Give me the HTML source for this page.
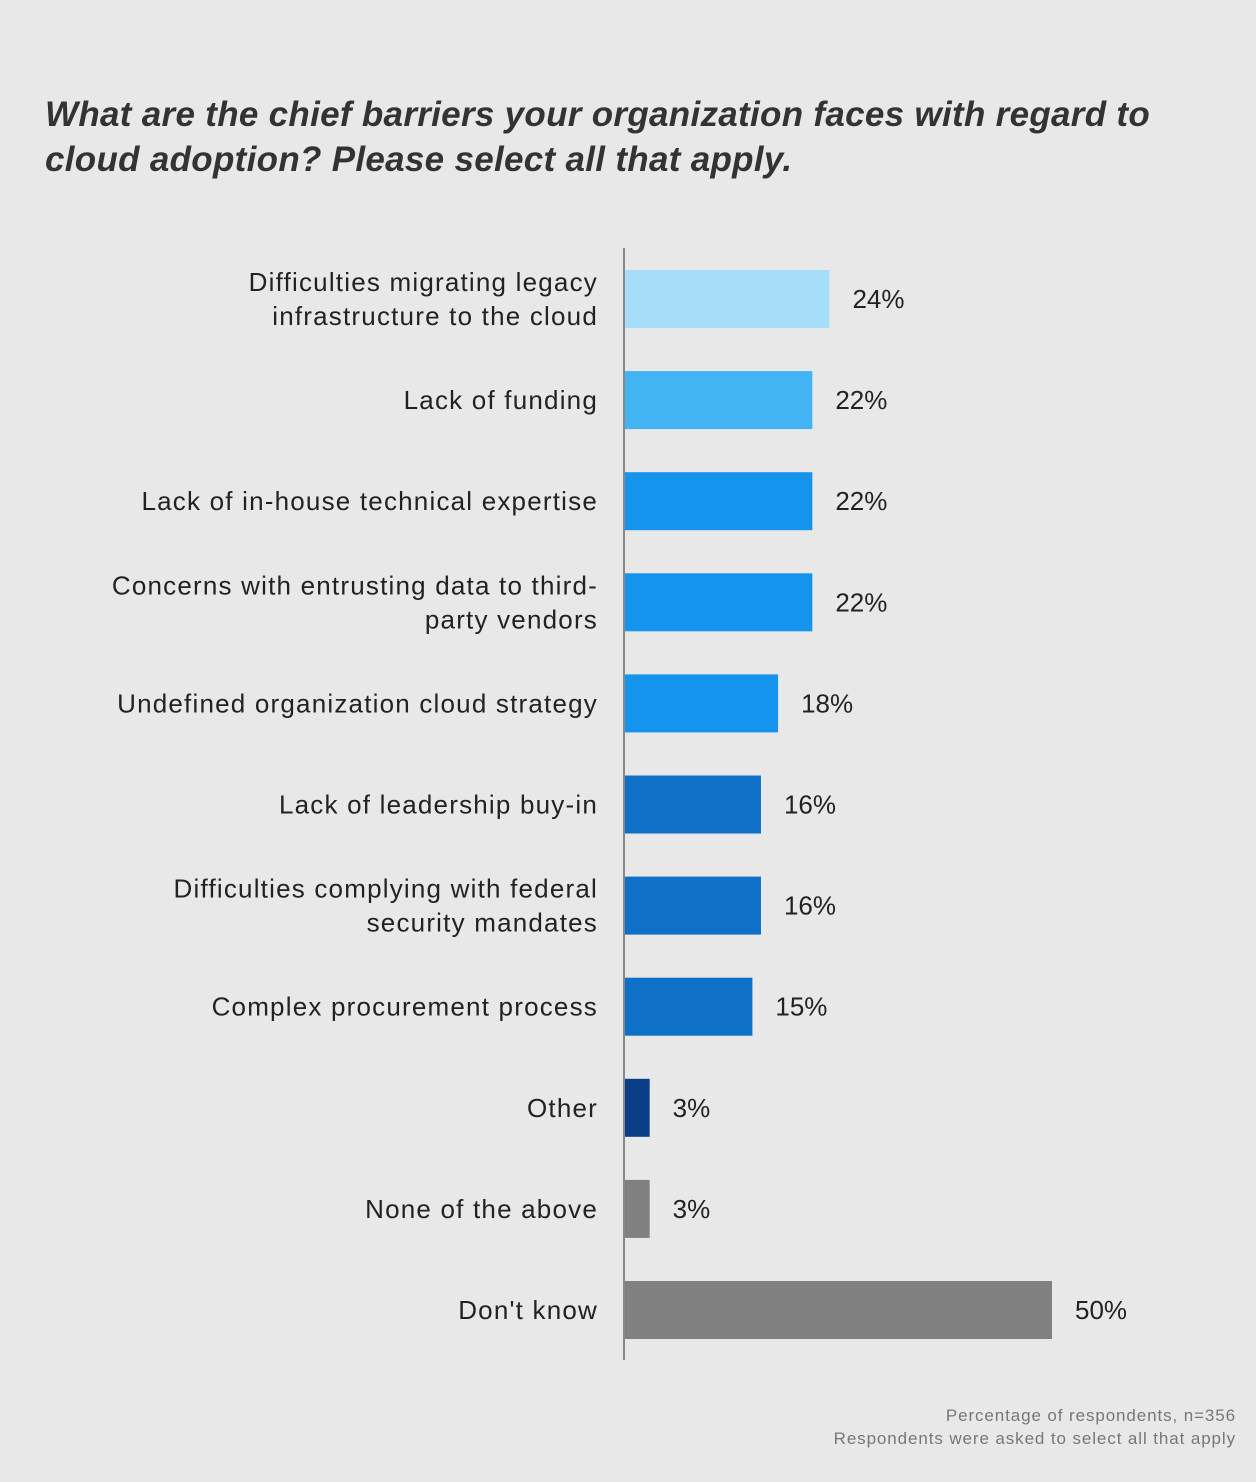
<!DOCTYPE html>
<html><head><meta charset="utf-8">
<style>
body{margin:0;width:1256px;height:1482px;background:#e8e8e8;font-family:"Liberation Sans",sans-serif;overflow:hidden;position:relative}
#title{position:absolute;left:45px;top:92px;font-size:35px;font-weight:bold;font-style:italic;color:#333;line-height:45px;letter-spacing:0.3px}
.foot{position:absolute;right:20px;font-size:17px;color:#777;text-align:right;letter-spacing:0.9px}
</style></head><body>
<div id="title">What are the chief barriers your organization faces with regard to<br>cloud adoption? Please select all that apply.</div>
<svg id="chart" width="1256" height="1482" style="position:absolute;left:0;top:0"></svg>
<div class="foot" style="top:1406px">Percentage of respondents, n=356</div>
<div class="foot" style="top:1429px">Respondents were asked to select all that apply</div>
<script>
const categories=[["Difficulties migrating legacy","infrastructure to the cloud"],["Lack of funding"],["Lack of in-house technical expertise"],["Concerns with entrusting data to third-","party vendors"],["Undefined organization cloud strategy"],["Lack of leadership buy-in"],["Difficulties complying with federal","security mandates"],["Complex procurement process"],["Other"],["None of the above"],["Don't know"]];
const values=[24,22,22,22,18,16,16,15,3,3,50];
const colors=["#a6ddf9","#42b3f3","#1594ee","#1594ee","#1594ee","#0e70c6","#0e70c6","#0e70c6","#0a3f87","#808080","#808080"];
const svg=document.getElementById('chart');const NS='http://www.w3.org/2000/svg';
const x0=624,scale=428/50;
const x=v=>x0+v*scale;
const yc=i=>299+i*101.1;
function mk(t,a){const e=document.createElementNS(NS,t);for(const k in a)e.setAttribute(k,a[k]);svg.appendChild(e);return e;}
values.forEach((v,i)=>{
 const r=mk('rect',{x:x0,y:yc(i)-29,width:x(v)-x0,height:58,fill:colors[i]});
 
 
 const t=mk('text',{x:x(v)+23,y:yc(i)+9,'font-size':26,fill:'#222'});
 t.textContent=v+'%';
 
 
 const lines=categories[i];
 const l=mk('text',{x:598,'text-anchor':'end','font-size':26,fill:'#222','letter-spacing':'1.2px'});
 
 
 lines.forEach((s,j)=>{const ts=document.createElementNS(NS,'tspan');ts.setAttribute('x',598);ts.setAttribute('y',yc(i)+9+(j-(lines.length-1)/2)*34);ts.textContent=s;l.appendChild(ts);});
});
const ax=mk('line',{x1:x0,x2:x0,y1:248,y2:1360,stroke:'#888','stroke-width':2});


</script>
</body></html>
